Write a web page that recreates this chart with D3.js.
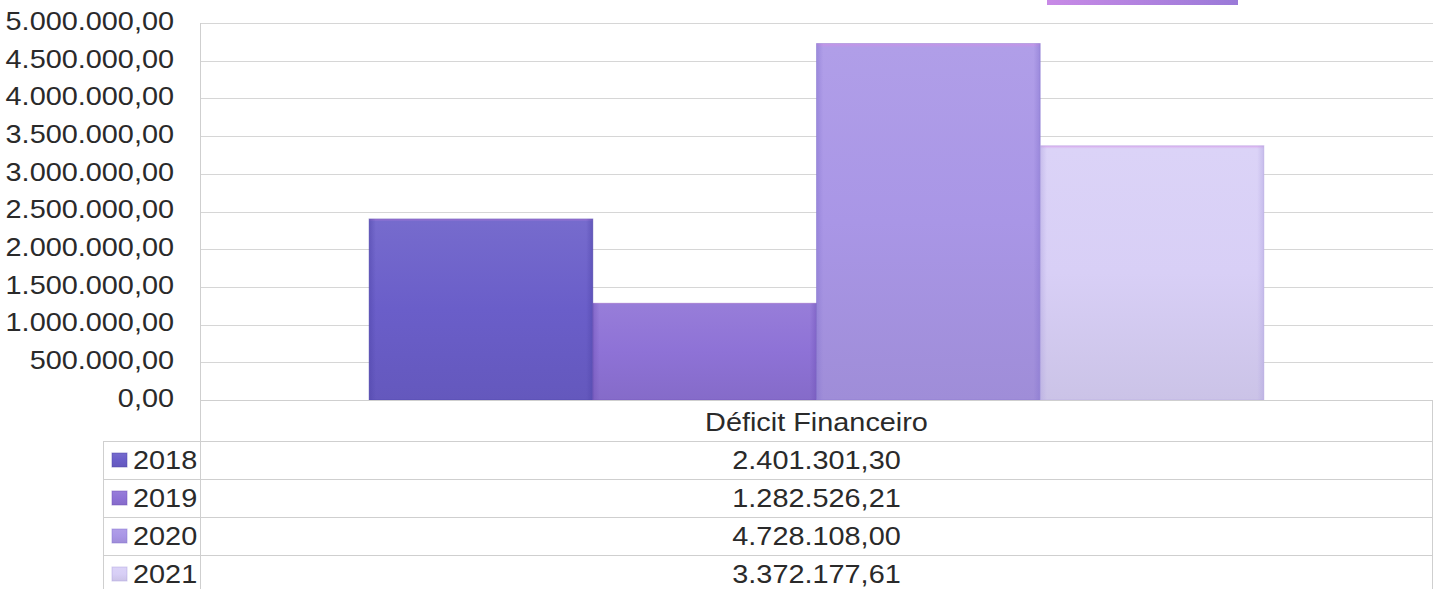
<!DOCTYPE html>
<html><head><meta charset="utf-8">
<script src="https://cdn.jsdelivr.net/npm/d3@7"></script>
<style>
html,body{margin:0;padding:0;background:#fff;}
svg{display:block;font-family:"Liberation Sans",Arial,sans-serif;}
</style></head>
<body>
<svg id="chart" width="1436" height="589"></svg>
<script>
const categories = ["Déficit Financeiro"];
const seriesNames = ["2018", "2019", "2020", "2021"];
const seriesValues = [2401301.30, 1282526.21, 4728108.00, 3372177.61];
const seriesLabels = ["2.401.301,30", "1.282.526,21", "4.728.108,00", "3.372.177,61"];
const yTicks = [0, 500000, 1000000, 1500000, 2000000, 2500000, 3000000, 3500000, 4000000, 4500000, 5000000];
const yTickLabels = ["0,00", "500.000,00", "1.000.000,00", "1.500.000,00", "2.000.000,00", "2.500.000,00", "3.000.000,00", "3.500.000,00", "4.000.000,00", "4.500.000,00", "5.000.000,00"];
const seriesColors = ["#6a5ec9", "#8e72d6", "#a996e6", "#d8cff6"];
const seriesEdge = ["#4e44a8", "#6f52b8", "#8675cf", "#b2a6e0"];

(function(){
const svg = d3.select("#chart");
const pL = 200, pR = 1433, pT = 23, pB = 400;
const tableLeft = 103, rowH = 38, headerBottom = 441;
const sx = 1.11, fs = 26;

const x0 = d3.scaleBand().domain(categories).range([pL, pR]).paddingInner(0).paddingOuter(0.189);
const x1 = d3.scaleBand().domain(seriesNames).range([0, x0.bandwidth()]).padding(0);
const y = d3.scaleLinear().domain([0, 5000000]).range([pB, pT]);

const defs = svg.append("defs");
seriesColors.forEach((c, i) => {
  const g = defs.append("linearGradient").attr("id", "g" + i).attr("x1", 0).attr("y1", 0).attr("x2", 0).attr("y2", 1);
  g.append("stop").attr("offset", 0).attr("stop-color", d3.interpolateRgb(c, "#e090e8")(0.55));
  g.append("stop").attr("offset", 0.012).attr("stop-color", d3.interpolateRgb(c, "#fff")(0.08));
  g.append("stop").attr("offset", 0.5).attr("stop-color", c);
  g.append("stop").attr("offset", 1).attr("stop-color", d3.interpolateRgb(c, "#000")(0.06));
  const h = defs.append("linearGradient").attr("id", "h" + i).attr("x1", 0).attr("y1", 0).attr("x2", 1).attr("y2", 0);
  h.append("stop").attr("offset", 0).attr("stop-color", seriesEdge[i]).attr("stop-opacity", 0.5);
  h.append("stop").attr("offset", 0.03).attr("stop-color", seriesEdge[i]).attr("stop-opacity", 0);
  h.append("stop").attr("offset", 0.97).attr("stop-color", seriesEdge[i]).attr("stop-opacity", 0);
  h.append("stop").attr("offset", 1).attr("stop-color", seriesEdge[i]).attr("stop-opacity", 0.5);
});
const lg = defs.append("linearGradient").attr("id", "lgtop").attr("x1", 0).attr("x2", 1);
lg.append("stop").attr("offset", 0).attr("stop-color", "#c88ae6");
lg.append("stop").attr("offset", 1).attr("stop-color", "#9a7ad8");

// cut-off legend artifact at top right
svg.append("rect").attr("x", 1047).attr("y", 0).attr("width", 191).attr("height", 5).attr("fill", "url(#lgtop)");

// gridlines
svg.append("g").selectAll("line").data(yTicks).join("line")
  .attr("x1", pL).attr("x2", pR)
  .attr("y1", d => Math.round(y(d)) + 0.5).attr("y2", d => Math.round(y(d)) + 0.5)
  .attr("stroke", "#d6d6d6").attr("stroke-width", 1);

// y axis
const yAxis = d3.axisLeft(y).tickValues(yTicks).tickSize(0).tickPadding(0)
  .tickFormat((d, i) => yTickLabels[i]);
const ga = svg.append("g").attr("transform", `translate(${pL},0)`).call(yAxis);
ga.select(".domain").remove();
ga.selectAll("text").attr("font-size", fs).attr("fill", "#2a2a2a")
  .attr("font-family", "Liberation Sans, Arial, sans-serif")
  .attr("x", 0).attr("dy", "0.32em")
  .attr("transform", `translate(-26,-2) scale(${sx},1)`);

// bars
const gb = svg.append("g").attr("transform", `translate(${x0(categories[0])},0)`);
gb.selectAll("rect.bar").data(seriesValues).join("rect").attr("class", "bar")
  .attr("x", (d, i) => x1(seriesNames[i])).attr("width", x1.bandwidth())
  .attr("y", d => y(d)).attr("height", d => y(0) - y(d))
  .attr("fill", (d, i) => `url(#g${i})`);
gb.selectAll("rect.edge").data(seriesValues).join("rect").attr("class", "edge")
  .attr("x", (d, i) => x1(seriesNames[i])).attr("width", x1.bandwidth())
  .attr("y", d => y(d)).attr("height", d => y(0) - y(d))
  .attr("fill", (d, i) => `url(#h${i})`)
  .attr("stroke", (d, i) => seriesEdge[i]).attr("stroke-opacity", 0.45).attr("stroke-width", 1);

// table lines
const tl = svg.append("g").attr("stroke", "#cfcfcf").attr("stroke-width", 1);
tl.append("line").attr("x1", pL).attr("x2", pR).attr("y1", pB + 0.5).attr("y2", pB + 0.5);
seriesNames.forEach((s, i) => {
  const yy = headerBottom + i * rowH + 0.5;
  tl.append("line").attr("x1", tableLeft).attr("x2", pR).attr("y1", yy).attr("y2", yy);
});
tl.append("line").attr("x1", pL + 0.5).attr("x2", pL + 0.5).attr("y1", pT).attr("y2", 589);
tl.append("line").attr("x1", tableLeft + 0.5).attr("x2", tableLeft + 0.5).attr("y1", headerBottom).attr("y2", 589);
tl.append("line").attr("x1", pR - 0.5).attr("x2", pR - 0.5).attr("y1", pB).attr("y2", 589);

// header
const cx = x0(categories[0]) + x0.bandwidth() / 2;
svg.append("text").attr("transform", `translate(${cx},${(pB + headerBottom) / 2 + 1}) scale(${sx},1)`)
  .attr("text-anchor", "middle").attr("dy", "0.35em").attr("font-size", fs).attr("fill", "#2a2a2a")
  .text(categories[0]);

// rows
seriesNames.forEach((s, i) => {
  const cy = headerBottom + i * rowH + rowH / 2;
  svg.append("rect").attr("x", 112).attr("y", cy - 7).attr("width", 15).attr("height", 14)
    .attr("fill", `url(#g${i})`).attr("stroke", seriesEdge[i]).attr("stroke-opacity", 0.5);
  svg.append("text").attr("transform", `translate(133,${cy}) scale(${sx},1)`)
    .attr("dy", "0.35em").attr("font-size", fs).attr("fill", "#2a2a2a").text(s);
  svg.append("text").attr("transform", `translate(${cx},${cy}) scale(${sx},1)`)
    .attr("text-anchor", "middle").attr("dy", "0.35em").attr("font-size", fs).attr("fill", "#2a2a2a")
    .text(seriesLabels[i]);
});
})();
</script>
</body></html>
